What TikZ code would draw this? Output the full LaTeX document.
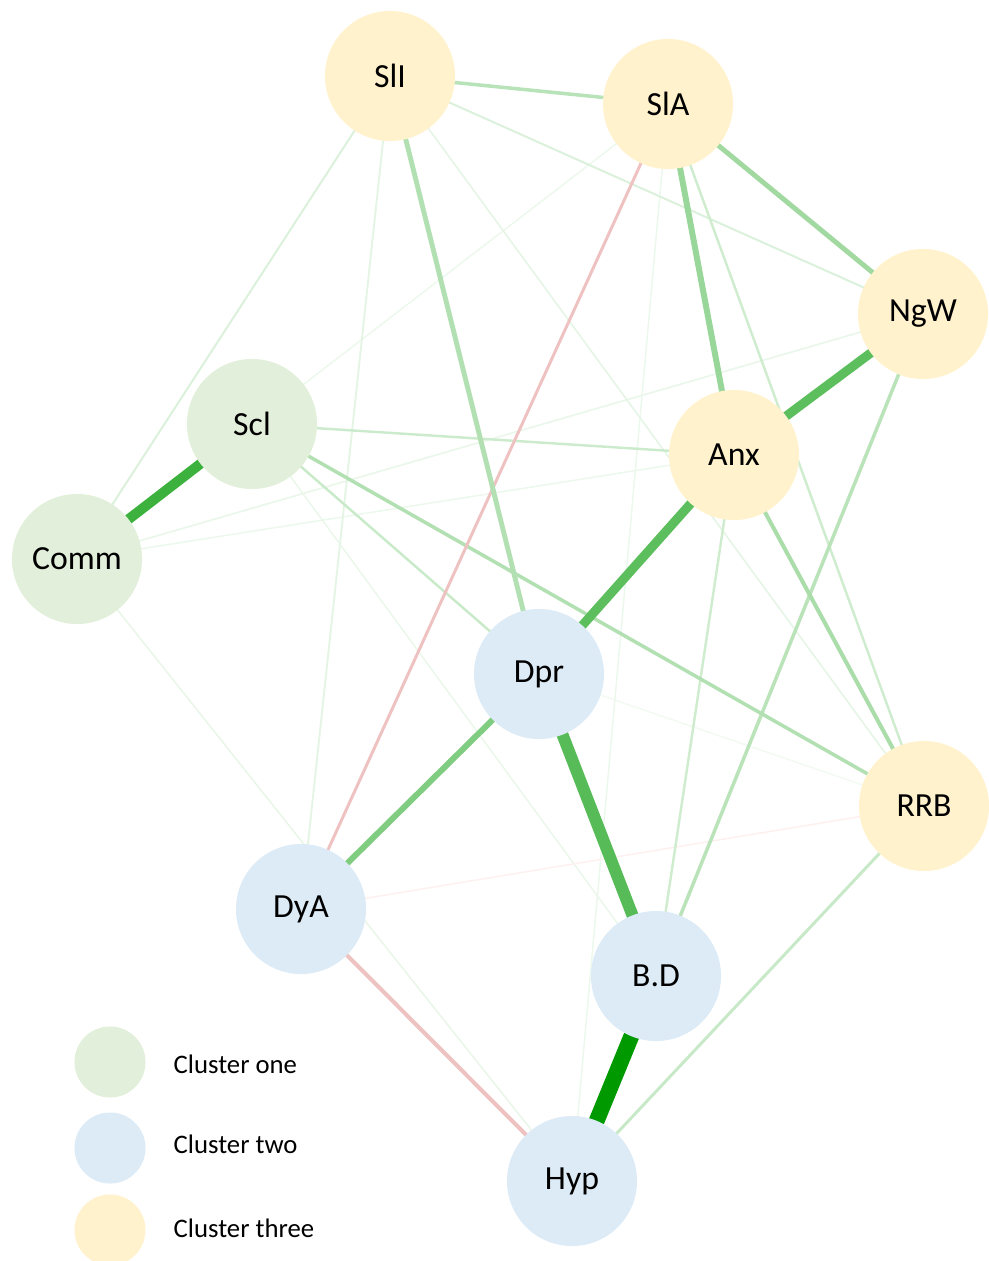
\documentclass[tikz,border=0pt]{standalone}
\usepackage{fontspec}
\setmainfont{Carlito}
\usetikzlibrary{backgrounds}

\definecolor{clone}{HTML}{E2EFDA}
\definecolor{cltwo}{HTML}{DDEBF7}
\definecolor{clthree}{HTML}{FFF2CC}
\definecolor{tg}{HTML}{009900}
\definecolor{gpink}{HTML}{EFC2C2}

\begin{document}
\begin{tikzpicture}[x=0.01cm, y=-0.01cm,
    every node/.style = {font=\fontsize{9.6}{11}\selectfont},
    var/.style = {circle, minimum size=1.3cm, inner sep=0pt},
    one/.style = {var, fill=clone},
    two/.style = {var, fill=cltwo},
    three/.style = {var, fill=clthree},
    key/.style = {circle, minimum size=0.71cm, inner sep=0pt},
    keytext/.style = {anchor=west, inner sep=0pt, font=\fontsize{7.6}{9}\selectfont},
    tie/.style 2 args = {draw=#1, line width=#2pt}]
  \useasboundingbox (0,0) rectangle (988,1261);

  % variables
  \node[three] (SlI) at (390,76)   {SlI};
  \node[three] (SlA) at (668,104)  {SlA};
  \node[three] (NgW) at (923,314)  {NgW};
  \node[one]   (Scl) at (252,424)  {Scl};
  \node[three] (Anx) at (734,455)  {Anx};
  \node[one]   (Comm) at (77,559)  {Comm};
  \node[two]   (Dpr) at (539,674)  {Dpr};
  \node[three] (RRB) at (924,806)  {RRB};
  \node[two]   (DyA) at (301,909)  {DyA};
  \node[two]   (BD)  at (656,976)  {B.D};
  \node[two]   (Hyp) at (572,1181) {Hyp};

  % legend
  \node[key, fill=clone]   (k1) at (110,1062) {};
  \node[key, fill=cltwo]   (k2) at (110,1148) {};
  \node[key, fill=clthree] (k3) at (110,1230) {};
  \node[keytext] (t1) at (173,1064) {Cluster one};
  \node[keytext] (t2) at (173,1144) {Cluster two};
  \node[keytext] (t3) at (173,1228) {Cluster three};

  \begin{scope}[on background layer]
    % faint ties
    \draw[tie={tg!5}{0.43}]  (Dpr.center) -- (RRB.center);
    \draw[tie={tg!7}{0.43}]  (Comm.center) -- (Anx.center);
    \draw[tie={tg!8}{0.5}]   (Comm.center) -- (NgW.center);
    \draw[tie={tg!7}{0.43}]  (SlA.center) -- (Scl.center);
    \draw[tie={tg!7}{0.43}]  (SlA.center) -- (Hyp.center);
    \draw[tie={tg!8}{0.43}]  (Scl.center) -- (BD.center);
    \draw[tie={tg!9}{0.43}]  (Comm.center) -- (Hyp.center);
    \draw[tie={tg!10}{0.45}] (SlI.center) -- (RRB.center);
    \draw[tie={tg!10}{0.55}] (SlI.center) -- (DyA.center);
    \draw[tie={red!6!white}{0.43}] (DyA.center) -- (RRB.center);
    % light ties
    \draw[tie={tg!14}{0.57}] (Comm.center) -- (SlI.center);
    \draw[tie={tg!14}{0.57}] (SlI.center) -- (NgW.center);
    \draw[tie={tg!19}{0.7}]  (Anx.center) -- (BD.center);
    \draw[tie={tg!19}{0.7}]  (SlA.center) -- (RRB.center);
    \draw[tie={tg!20}{0.7}]  (Scl.center) -- (Anx.center);
    \draw[tie={tg!21}{0.7}]  (Scl.center) -- (Dpr.center);
    \draw[tie={tg!22}{0.85}] (RRB.center) -- (Hyp.center);
    \draw[tie={tg!27}{1.0}]  (NgW.center) -- (BD.center);
    \draw[tie={tg!28}{1.0}]  (SlI.center) -- (SlA.center);
    \draw[tie={tg!30}{1.0}]  (Scl.center) -- (RRB.center);
    \draw[tie={gpink}{0.85}] (SlA.center) -- (DyA.center);
    \draw[tie={gpink}{1.15}] (DyA.center) -- (Hyp.center);
    % medium ties
    \draw[tie={tg!33}{1.15}] (Anx.center) -- (RRB.center);
    \draw[tie={tg!30}{1.4}]  (SlI.center) -- (Dpr.center);
    \draw[tie={tg!37}{1.4}]  (SlA.center) -- (NgW.center);
    \draw[tie={tg!40}{1.7}]  (SlA.center) -- (Anx.center);
    \draw[tie={tg!50}{1.7}]  (Dpr.center) -- (DyA.center);
    % strong ties
    \draw[tie={tg!64}{2.6}]  (NgW.center) -- (Anx.center);
    \draw[tie={tg!64}{2.6}]  (Anx.center) -- (Dpr.center);
    \draw[tie={tg!66}{3.4}]  (Dpr.center) -- (BD.center);
    \draw[tie={tg!76}{2.85}] (Comm.center) -- (Scl.center);
    \draw[tie={tg}{4.5}]     (BD.center) -- (Hyp.center);
  \end{scope}
\end{tikzpicture}
\end{document}
